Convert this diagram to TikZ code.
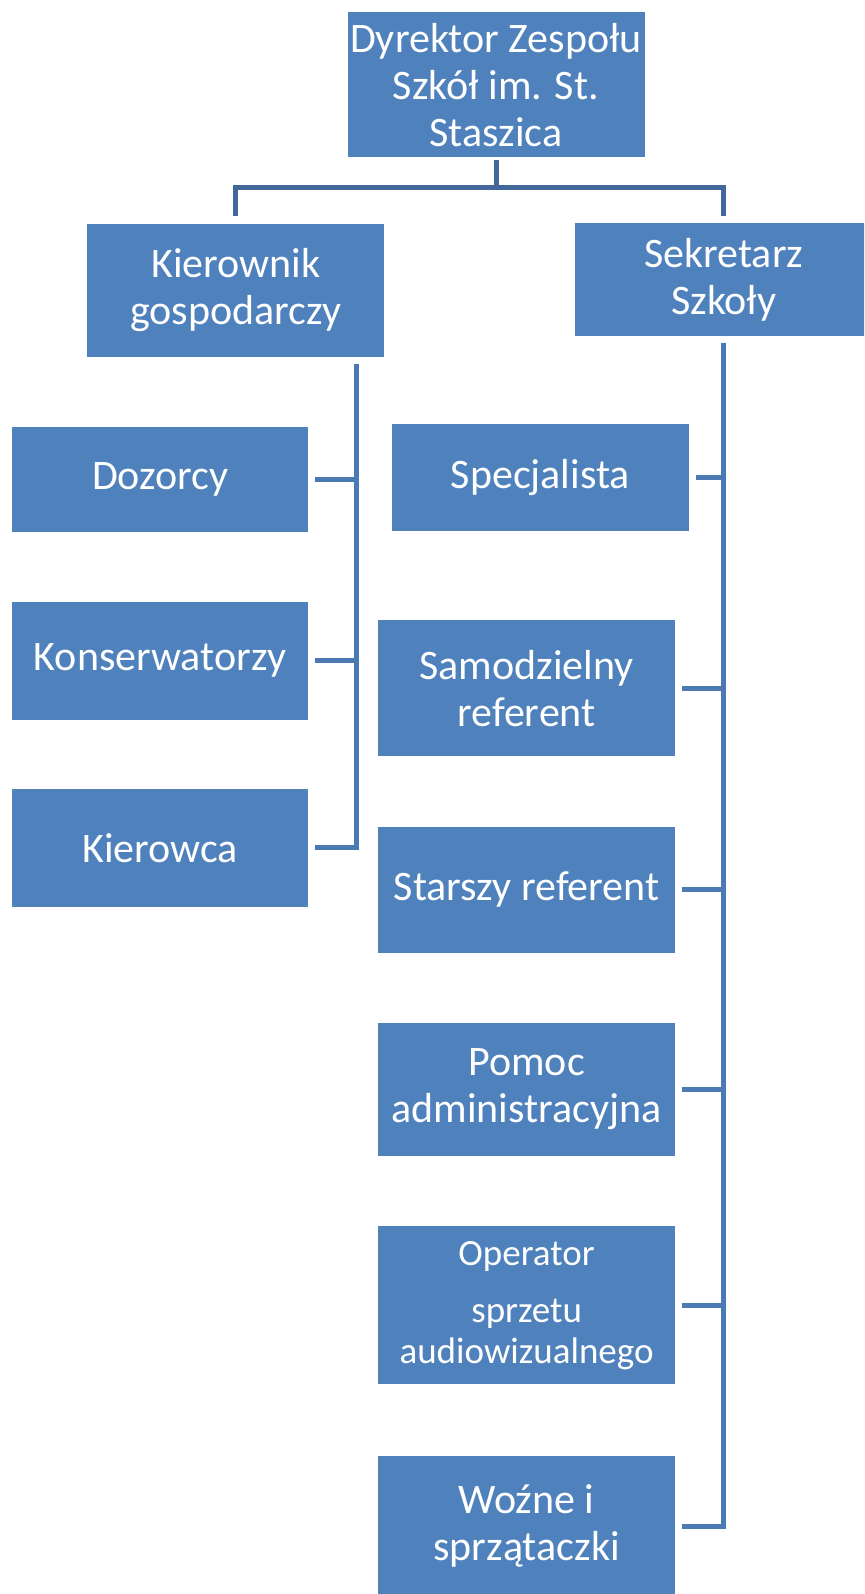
\documentclass[tikz,border=0pt]{standalone}
\usepackage{fontspec}
\setmainfont{Carlito}
\usetikzlibrary{calc}
\definecolor{boxblue}{HTML}{4F81BD}
\definecolor{linetop}{HTML}{41679B}
\definecolor{lineblue}{HTML}{4A79B4}
\tikzset{
  orgbox/.style={fill=boxblue, draw=none, text=white, minimum width=297pt, align=center, inner sep=0pt, font=\fontsize{42}{47}\selectfont, execute at begin node={\vspace*{5pt}}},
  topconn/.style={draw=linetop, line width=5pt, line cap=butt, line join=miter},
  conn/.style={draw=lineblue, line width=5pt, line cap=butt, line join=miter}
}
\begin{document}
\begin{tikzpicture}[x=1pt,y=-1pt]
\useasboundingbox (0,0) rectangle (864,1594);
\clip (0,0) rectangle (864,1594);
% top
\node[orgbox, minimum height=145pt, execute at begin node={}] (dyr) at (496,85) {Dyrektor Zespołu\\Szkół im. St.\\Staszica};
\node[orgbox, minimum height=133pt] (kg) at (235.8,290.2) {Kierownik\\gospodarczy};
\node[orgbox, minimum height=112pt] (sek) at (723.7,279.5) {Sekretarz\\Szkoły};
% left column
\node[orgbox, minimum width=296pt, minimum height=105pt] (dz) at (160.1,479.3) {Dozorcy};
\node[orgbox, minimum width=296pt, minimum height=118pt] (ks) at (160.1,660.7) {Konserwatorzy};
\node[orgbox, minimum width=296pt, minimum height=118pt, execute at begin node={}] (kw) at (160.1,847.8) {Kierowca};
% right column
\node[orgbox, minimum height=107pt] (sp) at (540.3,477.2) {Specjalista};
\node[orgbox, minimum height=136pt, execute at begin node={}] (sr) at (526.6,688.2) {Samodzielny\\referent};
\node[orgbox, minimum height=126pt] (st) at (526.6,889.5) {Starszy referent};
\node[orgbox, minimum height=133pt] (pa) at (526.6,1089.2) {Pomoc\\administracyjna};
\node[orgbox, minimum height=158pt, font=\fontsize{37}{41}\selectfont, execute at begin node={}] (op) at (526.6,1305.4) {Operator\\[16pt]sprzetu\\audiowizualnego};
\node[orgbox, minimum height=140pt] (wz) at (526.6,1526) {Woźne i\\sprzątaczki};
% connectors top
\coordinate (hz) at (496,188);
\draw[topconn] ($(dyr.south)+(0,2.5)$) -- (hz);
\draw[topconn] ($(kg.north)+(0,-7)$) |- (hz) -| ($(sek.north)+(0,-7)$);
% left tree
\coordinate (lx) at (356.8,0);
\draw[conn] ($(kg.south -| lx)+(0,7)$) |- ($(kw.east)+(7,0)$);
\draw[conn] ($(dz.east)+(7,0)$) -- (dz.east -| lx);
\draw[conn] ($(ks.east)+(7,0)$) -- (ks.east -| lx);
% right tree
\draw[conn] ($(sek.south)+(0,7)$) |- ($(wz.east)+(7,0)$);
\draw[conn] ($(sp.east)+(7,0)$) -- (sp.east -| sek.south);
\draw[conn] ($(sr.east)+(7,0)$) -- (sr.east -| sek.south);
\draw[conn] ($(st.east)+(7,0)$) -- (st.east -| sek.south);
\draw[conn] ($(pa.east)+(7,0)$) -- (pa.east -| sek.south);
\draw[conn] ($(op.east)+(7,0)$) -- (op.east -| sek.south);
\end{tikzpicture}
\end{document}
